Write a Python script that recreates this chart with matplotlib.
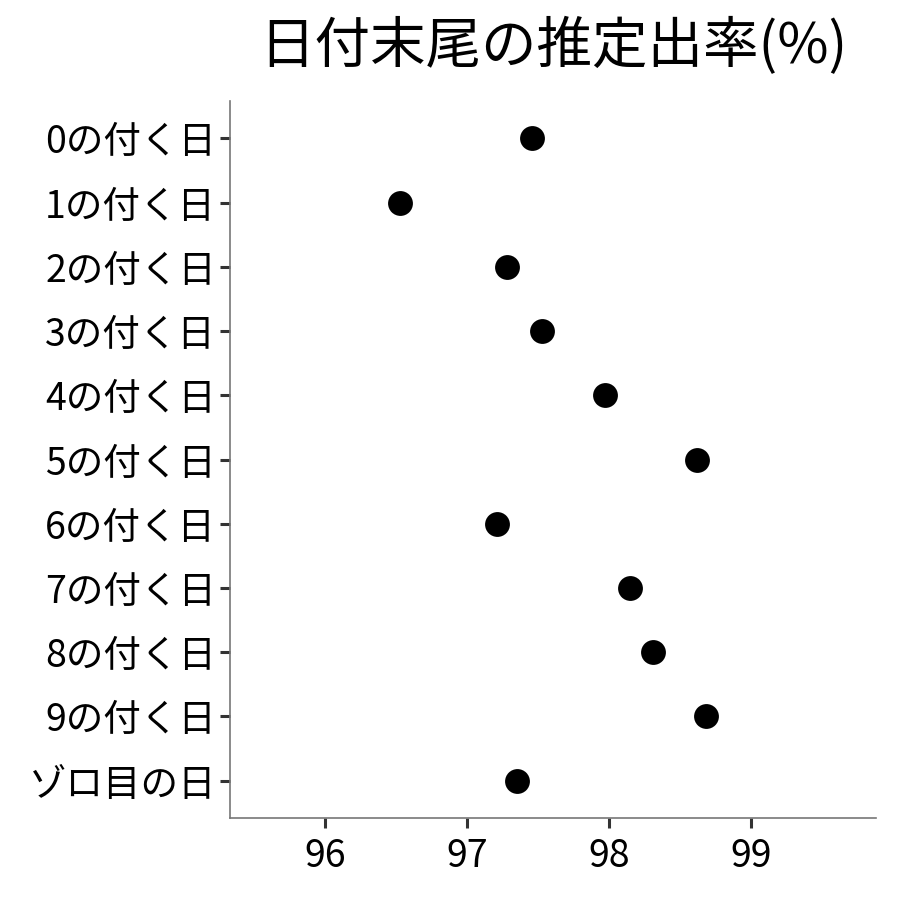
import matplotlib
matplotlib.use("Agg")
import matplotlib.pyplot as plt

plt.rcParams['font.family'] = ['Noto Sans CJK JP', 'DejaVu Sans']

# data
labels = ["0の付く日", "1の付く日", "2の付く日", "3の付く日", "4の付く日",
          "5の付く日", "6の付く日", "7の付く日", "8の付く日", "9の付く日",
          "ゾロ目の日"]
rates = [97.46, 96.53, 97.28, 97.53, 97.97, 98.62, 97.21, 98.15, 98.31, 98.68, 97.35]
xticks = [96, 97, 98, 99]

fig = plt.figure(figsize=(9, 9), dpi=100)
ax = fig.add_axes([230 / 900, 1 - 818 / 900, 646 / 900, 717 / 900])

ypos = list(range(len(labels)))
ax.scatter(rates, ypos, s=320, color="black", zorder=3, linewidths=0)

ax.set_yticks(ypos)
ax.set_yticklabels(labels)
ax.set_ylim(len(labels) - 1 + 0.58, -0.58)
ax.set_xlim(95.33, 99.88)
ax.set_xticks(xticks)
ax.set_xticklabels([str(t) for t in xticks])

for side in ["top", "right"]:
    ax.spines[side].set_visible(False)
for side in ["left", "bottom"]:
    ax.spines[side].set_color("#777777")
    ax.spines[side].set_linewidth(1.2)

ax.tick_params(axis="both", direction="out", length=7, width=2.2, color="#333333",
               labelsize=27, labelcolor="black", pad=3)
ax.tick_params(axis="x", pad=7)

fig.text(553 / 900, 1 - 47 / 900, "日付末尾の推定出率(%)", ha="center", va="center",
         fontsize=40)

fig.savefig("out.png", dpi=100, facecolor="white")
